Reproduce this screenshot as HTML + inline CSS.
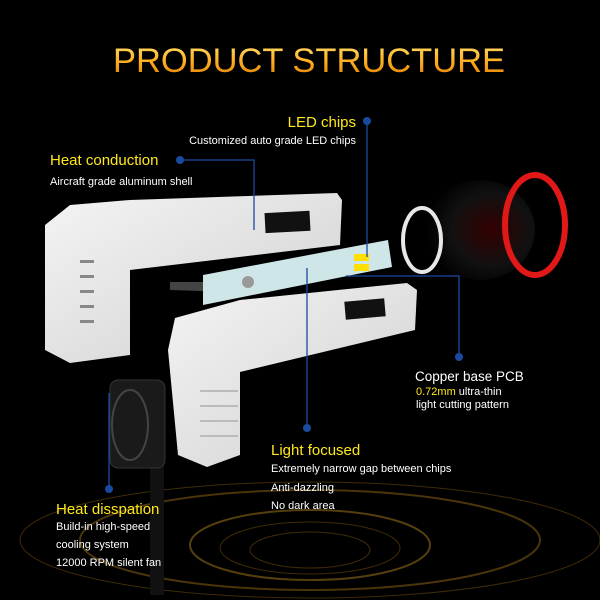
<!DOCTYPE html>
<html><head><meta charset="utf-8"><style>
html,body{margin:0;padding:0;background:#000;width:600px;height:600px;overflow:hidden;}
svg{display:block;overflow:hidden;}
text{font-family:"Liberation Sans",sans-serif;}
</style></head><body>
<svg width="600" height="600" viewBox="0 0 600 600" xmlns="http://www.w3.org/2000/svg">
<defs>
<linearGradient id="tg" x1="0" y1="0" x2="0" y2="1">
<stop offset="0" stop-color="#ffe070"/><stop offset="0.5" stop-color="#ffb020"/><stop offset="1" stop-color="#e07a00"/>
</linearGradient>
<linearGradient id="sh" x1="0" y1="0" x2="1" y2="1">
<stop offset="0" stop-color="#f4f4f4"/><stop offset="1" stop-color="#cfcfcf"/>
</linearGradient>
<radialGradient id="sock" cx="0.6" cy="0.5" r="0.6">
<stop offset="0" stop-color="#300"/><stop offset="0.6" stop-color="#111"/><stop offset="1" stop-color="#000"/>
</radialGradient>
</defs>
<rect width="600" height="600" fill="#000"/>
<g fill="none" stroke="#5a3e0c" opacity="0.7">
<ellipse cx="310" cy="540" rx="290" ry="58" stroke-width="1"/>
<ellipse cx="310" cy="540" rx="230" ry="50" stroke-width="2" stroke="#6a4c10"/>
<ellipse cx="310" cy="545" rx="120" ry="35" stroke-width="2" stroke="#7a5a14"/>
<ellipse cx="310" cy="548" rx="90" ry="26" stroke-width="1"/>
<ellipse cx="310" cy="550" rx="60" ry="18" stroke-width="1"/>
</g>
<text x="113" y="72" font-size="34" fill="url(#tg)" textLength="392" lengthAdjust="spacingAndGlyphs">PRODUCT STRUCTURE</text>
<ellipse cx="480" cy="230" rx="55" ry="50" fill="url(#sock)"/>
<ellipse cx="535" cy="225" rx="30" ry="50" fill="none" stroke="#e01818" stroke-width="6"/>
<ellipse cx="422" cy="240" rx="19" ry="32" fill="none" stroke="#e8e8e8" stroke-width="4"/>
<rect x="150" y="455" width="14" height="140" fill="#111"/>
<rect x="110" y="380" width="55" height="88" rx="8" fill="#1a1a1a" stroke="#333"/>
<ellipse cx="130" cy="425" rx="18" ry="35" fill="none" stroke="#444" stroke-width="2"/>
<polygon points="45,225 70,205 130,200 337,193 342,200 340,245 130,270 130,355 70,363 45,350" fill="url(#sh)"/>
<rect x="265" y="212" width="45" height="20" fill="#111" transform="rotate(-3 287 222)"/>
<g fill="#888"><rect x="80" y="260" width="14" height="3"/><rect x="80" y="275" width="14" height="3"/><rect x="80" y="290" width="14" height="3"/><rect x="80" y="305" width="14" height="3"/><rect x="80" y="320" width="14" height="3"/></g>
<polygon points="170,282 230,282 230,292 170,290" fill="#444"/>
<polygon points="203,275 388,240 392,267 203,305" fill="#cfe6e8"/>
<rect x="354" y="254" width="15" height="7" fill="#ffe000"/>
<rect x="354" y="264" width="15" height="7" fill="#ffe000"/>
<circle cx="248" cy="282" r="6" fill="#999"/>
<polygon points="175,318 240,300 407,283 417,290 415,330 240,372 240,455 207,467 178,455 168,350" fill="url(#sh)"/>
<rect x="345" y="300" width="40" height="18" fill="#111" transform="rotate(-5 365 309)"/>
<g fill="#bbb"><rect x="200" y="390" width="38" height="2"/><rect x="200" y="405" width="38" height="2"/><rect x="200" y="420" width="38" height="2"/><rect x="200" y="435" width="38" height="2"/></g>
<g stroke="#1a4aa0" stroke-width="1.3" fill="none">
<polyline points="367,121 367,257"/>
<polyline points="180,160 254,160 254,230"/>
<polyline points="346,276 459,276 459,357"/>
<polyline points="307,268 307,428"/>
<polyline points="109,393 109,489"/>
</g>
<g fill="#1a4aa0">
<circle cx="367" cy="121" r="4"/><circle cx="180" cy="160" r="4"/><circle cx="459" cy="357" r="4"/><circle cx="307" cy="428" r="4"/><circle cx="109" cy="489" r="4"/>
</g>
<g fill="#ffe81a" font-size="15">
<text x="356" y="127" text-anchor="end">LED chips</text>
<text x="50" y="165">Heat conduction</text>
<text x="271" y="455">Light focused</text>
<text x="56" y="514">Heat disspation</text>
</g>
<g fill="#fff" font-size="11">
<text x="356" y="144" text-anchor="end">Customized auto grade LED chips</text>
<text x="50" y="185">Aircraft grade aluminum shell</text>
<text x="415" y="381" font-size="13.5">Copper base PCB</text>
<text x="416" y="395"><tspan fill="#ffe81a">0.72mm</tspan> ultra-thin</text>
<text x="416" y="408">light cutting pattern</text>
<text x="271" y="472">Extremely narrow gap between chips</text>
<text x="271" y="491">Anti-dazzling</text>
<text x="271" y="509">No dark area</text>
<text x="56" y="530">Build-in high-speed</text>
<text x="56" y="548">cooling system</text>
<text x="56" y="566">12000 RPM silent fan</text>
</g>
</svg>
</body></html>
